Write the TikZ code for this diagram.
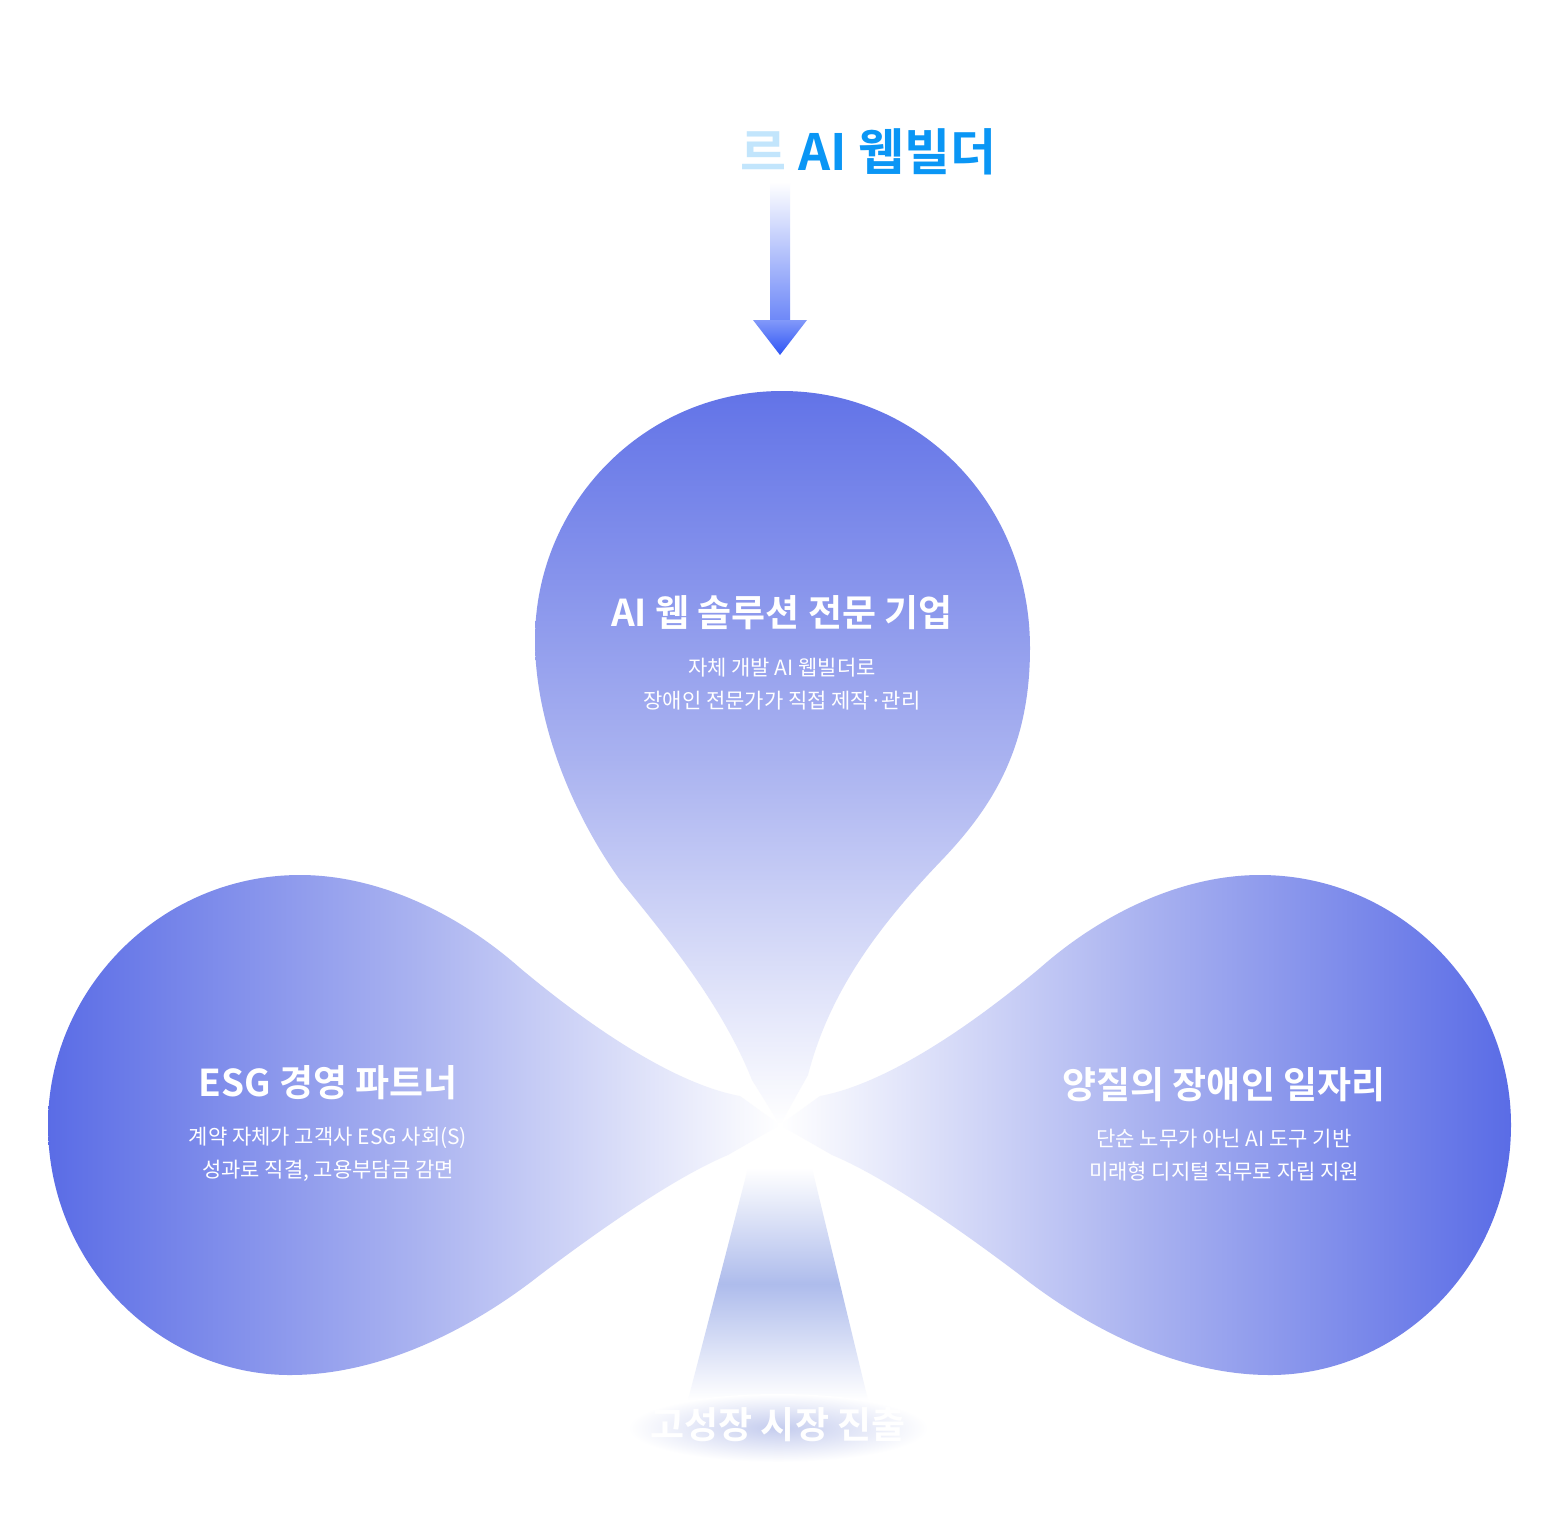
\documentclass[tikz,border=0pt]{standalone}
\usepackage{fontspec}
\newfontfamily\kr{Noto Sans CJK KR}
\newfontfamily\krb{Noto Sans CJK KR Bold}
\definecolor{petal}{HTML}{5A6CE6}
\definecolor{pmid}{HTML}{A9B2F0}
\definecolor{stem}{HTML}{AEBCEC}
\definecolor{head}{HTML}{0A96F5}
\definecolor{arr}{HTML}{2F55F5}
\definecolor{shd}{HTML}{C4CCEE}
\begin{document}
\begin{tikzpicture}[x=1pt,y=-1pt,
  ttl/.style={text=white,font=\krb\fontsize{37}{40}\selectfont},
  sub/.style={text=white,font=\kr\fontsize{21}{33}\selectfont,align=center}]
\useasboundingbox (0,0) rectangle (1559,1519);
\fill[white] (0,0) rectangle (1559,1519);
% top petal
\shade[top color=petal!95, bottom color=white, middle color=pmid]
 (780,1125) -- (752,1080) .. controls (720,1000) and (660,930) .. (620,880)
 .. controls (570,810) and (535,720) .. (535,640)
 .. controls (535,503) and (645,391) .. (782,391)
 .. controls (919,391) and (1030,503) .. (1030,648)
 .. controls (1030,745) and (995,805) .. (940,862)
 .. controls (880,925) and (830,990) .. (808,1075) -- cycle;
% left petal
\shade[left color=petal, right color=white, middle color=pmid]
 (780,1125) -- (740,1096) .. controls (680,1085) and (600,1035) .. (520,968)
 .. controls (460,915) and (380,875) .. (300,875)
 .. controls (160,875) and (48,990) .. (48,1125)
 .. controls (48,1265) and (160,1375) .. (290,1375)
 .. controls (380,1375) and (470,1330) .. (540,1275)
 .. controls (610,1222) and (680,1175) .. (728,1155) -- cycle;
% right petal
\shade[right color=petal, left color=white, middle color=pmid]
 (780,1125) -- (820,1096) .. controls (880,1085) and (960,1035) .. (1040,968)
 .. controls (1100,915) and (1180,875) .. (1260,875)
 .. controls (1400,875) and (1511,990) .. (1511,1125)
 .. controls (1511,1265) and (1400,1375) .. (1270,1375)
 .. controls (1180,1375) and (1090,1330) .. (1020,1275)
 .. controls (950,1222) and (880,1175) .. (832,1155) -- cycle;
% stem
\shade[top color=white, bottom color=white, middle color=stem]
 (748,1168) -- (812,1168) -- (868,1400) -- (688,1400) -- cycle;
% soft glow behind bottom label
\shade[inner color=shd, outer color=white] (778,1428) ellipse (150 and 34);
% heading
\node[text=head!25,font=\krb\fontsize{50}{55}\selectfont,anchor=base east] (hf) at (790,170) {르};
\node[text=head,font=\krb\fontsize{50}{55}\selectfont,anchor=base west] (h) at (795,170) {AI 웹빌더};
\shade[top color=white, bottom color=arr!70] (770,182) rectangle (790,320);
\shade[top color=arr!60, bottom color=arr] (753,320) -- (807,320) -- (780,355) -- cycle;
% texts
\node[ttl] (t1) at (782,613) {AI 웹 솔루션 전문 기업};
\node[sub] (s1) at (782,684) {자체 개발 AI 웹빌더로\\장애인 전문가가 직접 제작·관리};
\node[ttl] (t2) at (328,1083) {ESG 경영 파트너};
\node[sub] (s2) at (328,1154) {계약 자체가 고객사 ESG 사회(S)\\성과로 직결, 고용부담금 감면};
\node[ttl] (t3) at (1224,1085) {양질의 장애인 일자리};
\node[sub] (s3) at (1224,1155) {단순 노무가 아닌 AI 도구 기반\\미래형 디지털 직무로 자립 지원};
\node[ttl] (t4) at (778,1425) {고성장 시장 진출};
\end{tikzpicture}
\end{document}
